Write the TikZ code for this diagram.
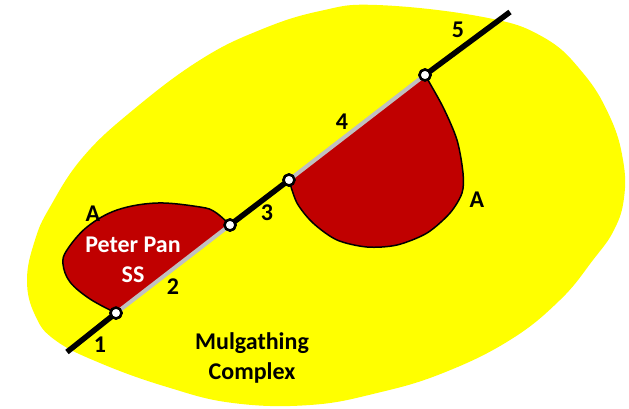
\documentclass[tikz,border=0pt]{standalone}
\usepackage{fontspec}
\setmainfont{Carlito}
\definecolor{blobyellow}{HTML}{FFFF00}
\definecolor{unitred}{HTML}{C00000}
\definecolor{contactgray}{HTML}{C0C0C0}
\begin{document}
\begin{tikzpicture}[x=1pt,y=-1pt,
  lbl/.style={font=\fontsize{24}{30}\selectfont\bfseries, inner sep=0pt, align=center},
  joint/.style={circle, draw=black, fill=white, line width=2.5pt, minimum size=11pt, inner sep=0pt},
  blackseg/.style={line width=5.5pt, black},
  grayseg/.style={line width=4pt, contactgray},
  redfill/.style={fill=unitred},
  redline/.style={draw=black, line width=1.5pt, line join=round}]
\useasboundingbox (0,0) rectangle (629,408);
% yellow complex
\fill[blobyellow] plot[smooth cycle, tension=0.7] coordinates {
  (320,11) (377,5) (483,17) (543,37) (583,73) (610,117) (623,160) (624,198)
  (614,230) (593,260) (560,300) (510,340) (443,373) (377,393) (310,405)
  (233,403) (167,387) (100,363) (55,340) (35,315) (27,280) (35,240)
  (50,207) (83,157) (133,110) (200,60) (260,30)};
% joints and ends
\coordinate (s) at (67,352);
\coordinate (e) at (510,12);
\node[joint] (c1) at (116,313) {};
\node[joint] (c2) at (230,225) {};
\node[joint] (c3) at (289,180) {};
\node[joint] (c4) at (425,75) {};
% Peter Pan SS
\fill[redfill] (c2.center) -- plot[smooth, tension=0.6] coordinates {
  (230,225) (215,212) (200,207) (157,203) (117,210) (87,227) (67,250)
  (63,264) (70,282) (90,299) (116,313)} -- cycle;
\draw[redline] plot[smooth, tension=0.6] coordinates {
  (230,225) (215,212) (200,207) (157,203) (117,210) (87,227) (67,250)
  (63,264) (70,282) (90,299) (116,313)};
% second body
\fill[redfill] plot[smooth, tension=0.5] coordinates {
  (425,75) (443,107) (457,140) (463,173) (462,193) (450,213) (427,233)
  (397,245) (367,247) (337,240) (313,223) (297,203) (289,180)} -- cycle;
\draw[redline] plot[smooth, tension=0.5] coordinates {
  (425,75) (443,107) (457,140) (463,173) (462,193) (450,213) (427,233)
  (397,245) (367,247) (337,240) (313,223) (297,203) (289,180)};
% line segments
\draw[blackseg] (s) -- (c1.center);
\draw[grayseg] (c1.center) -- (c2.center);
\draw[blackseg] (c2.center) -- (c3.center);
\draw[grayseg] (c3.center) -- (c4.center);
\draw[blackseg] (c4.center) -- (e);
% redraw joints on top
\node[joint] at (c1) {};
\node[joint] at (c2) {};
\node[joint] at (c3) {};
\node[joint] at (c4) {};
% labels
\node[lbl] (l1) at (100,345) {1};
\node[lbl] (l2) at (173,287) {2};
\node[lbl] (l3) at (267,213) {3};
\node[lbl] (l4) at (342,122) {4};
\node[lbl] (l5) at (458,30) {5};
\node[lbl] (la1) at (93,214) {A};
\node[lbl] (la2) at (477,200) {A};
\node[lbl, white] (pp) at (133,260) {Peter Pan\\SS};
\node[lbl] (mc) at (252,358) {Mulgathing\\Complex};
\end{tikzpicture}
\end{document}
